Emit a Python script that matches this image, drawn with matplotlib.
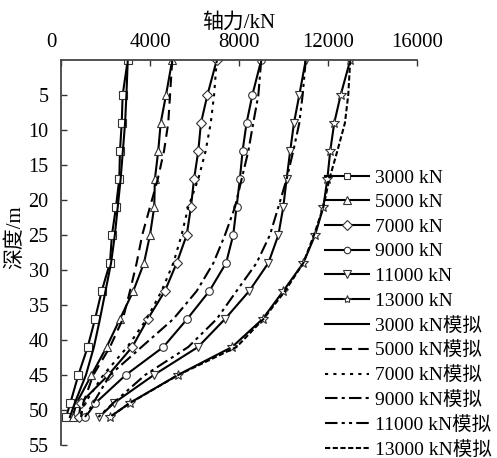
import matplotlib
matplotlib.use('Agg')
import matplotlib.pyplot as plt
from matplotlib.transforms import ScaledTranslation

plt.rcParams['font.family'] = ['Liberation Serif', 'Noto Sans CJK SC']

# depth of gauges (m)
depth = [0, 5, 9, 13, 17, 21, 25, 29, 33, 37, 41, 45, 49, 51]

# measured axial force (kN)
m3000 = [3000, 2770, 2730, 2650, 2620, 2470, 2290, 2200, 1830, 1530, 1200, 780, 420, 230]
m5000 = [5000, 4720, 4480, 4370, 4220, 4190, 4000, 3730, 3250, 2650, 2050, 1370, 700, 520]
m7000 = [7000, 6580, 6290, 6170, 5980, 5840, 5650, 5200, 4670, 3900, 3200, 2130, 880, 810]
m9000 = [9000, 8600, 8340, 8160, 8040, 7890, 7740, 7420, 6670, 5670, 4600, 2910, 1550, 1100]
m11000 = [11000, 10710, 10470, 10300, 10140, 9990, 9770, 9320, 8460, 7370, 6160, 4170, 2380, 1720]
m13000 = [13000, 12570, 12280, 12100, 11970, 11790, 11420, 10890, 9990, 9060, 7690, 5250, 3090, 2200]

# simulated axial force (kN)
s3000 = [3000, 2940, 2880, 2780, 2680, 2550, 2420, 2250, 2000, 1750, 1480, 1120, 620, 400]
s5000 = [5000, 4900, 4820, 4630, 4350, 4000, 3650, 3400, 3100, 2780, 2200, 1450, 1000, 900]
s7000 = [7000, 6880, 6730, 6500, 6170, 5720, 5420, 5050, 4520, 3850, 2980, 1900, 1080, 850]
s9000 = [9000, 8870, 8640, 8420, 8120, 7820, 7370, 6850, 6100, 5050, 3620, 2200, 1450, 1080]
s11000 = [11000, 10860, 10710, 10440, 10140, 9770, 9390, 8790, 7890, 7000, 5720, 3780, 2350, 1680]
s13000 = [13000, 12910, 12760, 12420, 12060, 11790, 11370, 10890, 10070, 9100, 7890, 5270, 3100, 2200]

loads = ['3000 kN', '5000 kN', '7000 kN', '9000 kN', '11000 kN', '13000 kN']
measured = [m3000, m5000, m7000, m9000, m11000, m13000]
simulated = [s3000, s5000, s7000, s9000, s11000, s13000]

markers = ['s', '^', 'D', 'o', 'v', '*']
msizes = [5.5, 6, 5.5, 5.5, 6, 7]
sim_styles = ['-', (0, (5, 3)), (0, (1.5, 2.5)), (0, (6, 2, 1.5, 2)),
              (0, (6, 2, 1.5, 2, 1.5, 2)), (0, (2.5, 1.2))]

fig = plt.figure(figsize=(4.97, 4.58), dpi=100)
ax = fig.add_axes([61 / 497, 1 - 445 / 458, 356 / 497, 385 / 458])

for lab, vals, mk, ms in zip(loads, measured, markers, msizes):
    ax.plot(vals, depth, color='black', lw=1.5, marker=mk, ms=ms,
            mfc='white', mec='#333333', mew=0.8, label=lab)
for lab, vals, ls in zip(loads, simulated, sim_styles):
    ax.plot(vals, depth, color='black', lw=1.5, ls=ls, label=lab + '模拟')

ax.set_xlim(0, 16000)
ax.set_ylim(55, 0)
ax.set_xticks([0, 4000, 8000, 12000, 16000])
ax.set_yticks([5, 10, 15, 20, 25, 30, 35, 40, 45, 50, 55])
ax.xaxis.tick_top()
ax.tick_params(direction='in', length=4, width=1, labelsize=15, pad=6, colors='#333333',
               labelcolor='black')
ax.tick_params(axis='y', pad=9, labelsize=14.5)
for side in ['right', 'bottom']:
    ax.spines[side].set_visible(False)
for side in ['left', 'top']:
    ax.spines[side].set_linewidth(1.3)
    ax.spines[side].set_color('#444444')

# the "0" label sits a bit left of the corner in the original
lbl0 = ax.get_xticklabels()[0]
lbl0.set_transform(lbl0.get_transform() + ScaledTranslation(-0.1, 0, fig.dpi_scale_trans))

ax.xaxis.set_label_position('top')
ax.set_xlabel('轴力/kN', fontsize=15)
ax.xaxis.set_label_coords(0.5, 1.085)
ax.set_ylabel('深度/m', fontsize=15)
ax.yaxis.set_label_coords(-0.1, 0.54)

fig.legend(loc='upper left', bbox_to_anchor=(325 / 497, 1 - 169 / 458), frameon=False,
           fontsize=14, handlelength=2.25, handletextpad=0.3, labelspacing=0.36,
           borderpad=0, borderaxespad=0, markerscale=0.85)

fig.savefig('out.png', dpi=100)
